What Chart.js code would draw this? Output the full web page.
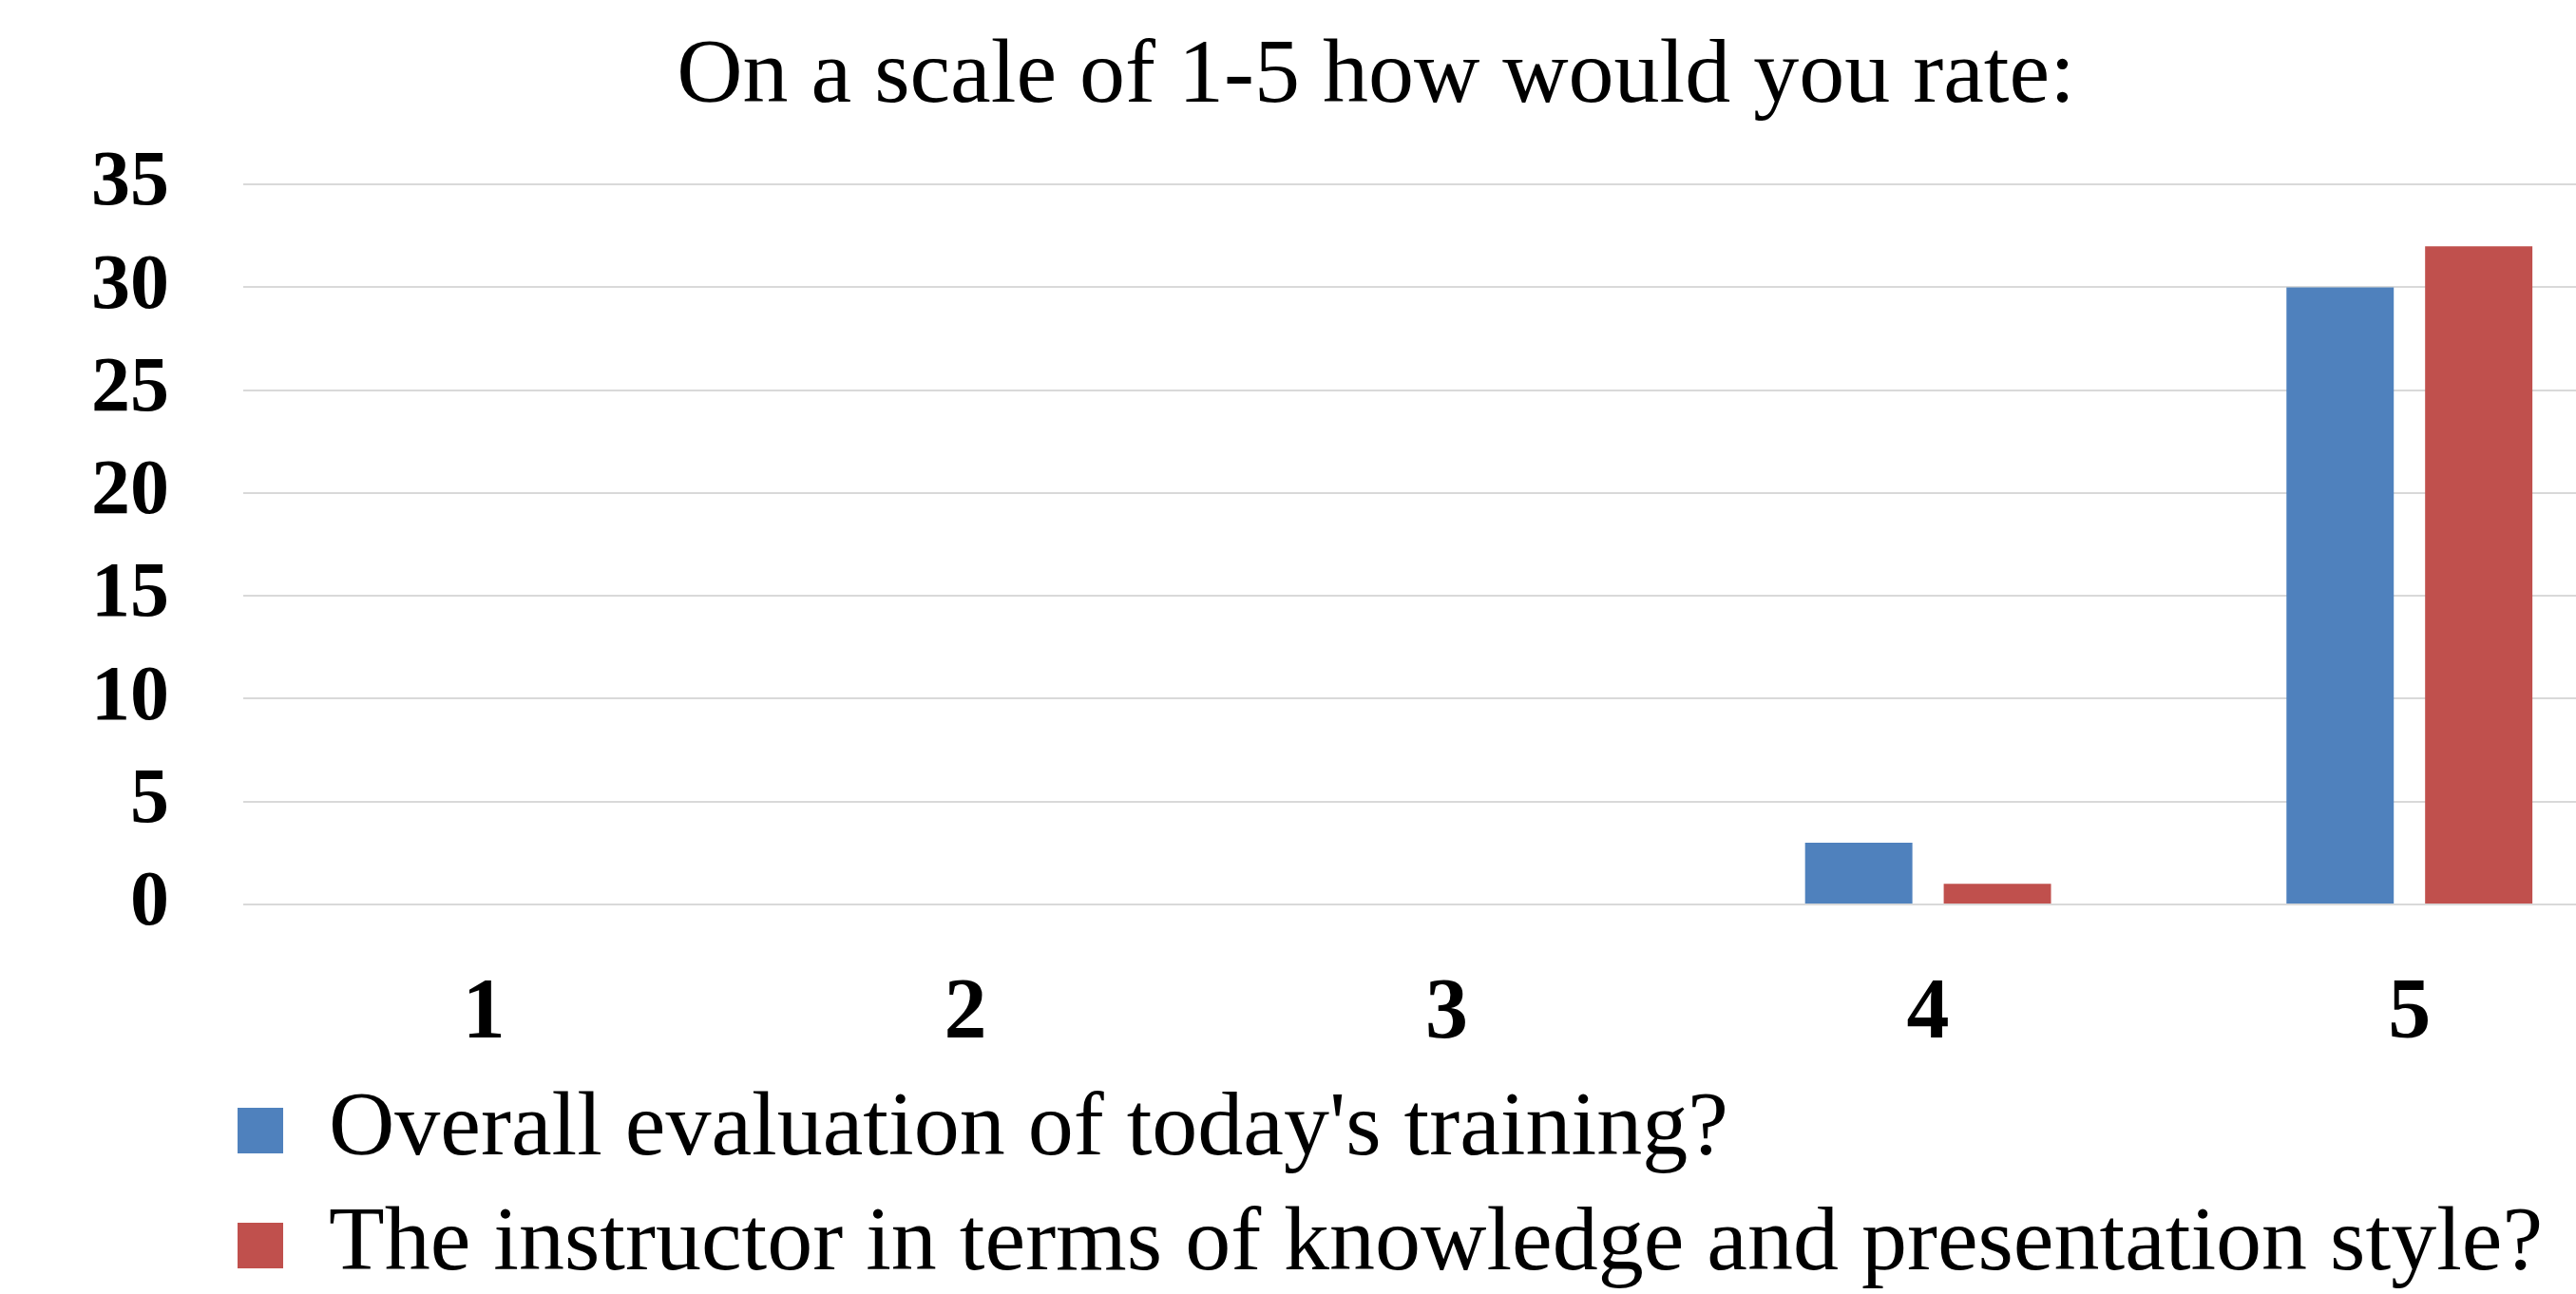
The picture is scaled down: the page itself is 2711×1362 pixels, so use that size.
<!DOCTYPE html>
<html>
<head>
<meta charset="utf-8">
<title>On a scale of 1-5 how would you rate</title>
<script src="https://cdn.jsdelivr.net/npm/chart.js@4.4.1/dist/chart.umd.min.js"></script>
<style>
    html, body { margin: 0; padding: 0; background: #fff; overflow: hidden; }
    #wrap { width: 2896px; height: 1369px; }
</style>
</head>
<body>
<div id="wrap"><canvas id="ratingChart" width="2896" height="1369"></canvas></div>
<script>
const categories = ["1", "2", "3", "4", "5"];
const seriesNames = ["Overall evaluation of today's training?", "The instructor in terms of knowledge and presentation style?"];
const overallValues = [0, 0, 0, 3, 30];
const instructorValues = [0, 0, 0, 1, 32];
const seriesColors = ["#4F81BD", "#C0504D"];
const yMax = 35;
const yStep = 5;

const FONT = "'Liberation Serif', 'Times New Roman', serif";

// title centred on the whole canvas, legend under the plot near its left edge
const boxShift = {
    id: "boxShift",
    afterLayout(chart) {
        chart.titleBlock.left = 0;
        chart.titleBlock.right = chart.width;
        const pad = chart.options.plugins.legend.labels.padding;
        chart.legend.left = chart.chartArea.left - 6 - pad;
    }
};

document.addEventListener("DOMContentLoaded", function () {
    const ctx = document.getElementById("ratingChart").getContext("2d");

    new Chart(ctx, {
        type: "bar",
        data: {
            labels: categories,
            datasets: [{
                label: seriesNames[0],
                data: overallValues,
                backgroundColor: seriesColors[0],
                borderWidth: 0
            }, {
                label: seriesNames[1],
                data: instructorValues,
                backgroundColor: seriesColors[1],
                borderWidth: 0
            }]
        },
        options: {
            responsive: false,
            animation: false,
            categoryPercentage: 0.576,
            barPercentage: 0.774,
            layout: {
                padding: { left: 18, right: 107, top: 0, bottom: 0 }
            },
            scales: {
                x: {
                    grid: { display: false, drawTicks: false },
                    border: { display: false },
                    ticks: {
                        color: "#000",
                        padding: 63,
                        font: { family: FONT, size: 90, weight: "bold" }
                    },
                    afterFit(scale) {
                        scale.height = 165;
                    }
                },
                y: {
                    min: 0,
                    max: yMax,
                    ticks: {
                        stepSize: yStep,
                        color: "#000",
                        padding: 78,
                        font: { family: FONT, size: 82, weight: "bold" }
                    },
                    grid: { color: "#d9d9d9", lineWidth: 2, drawTicks: false },
                    border: { display: false },
                    afterFit(scale) {
                        scale.width = 238;
                    }
                }
            },
            plugins: {
                title: {
                    display: true,
                    text: "On a scale of 1-5 how would you rate:",
                    color: "#000",
                    padding: { top: 24, bottom: 55 },
                    font: { family: FONT, size: 96, weight: "normal" }
                },
                legend: {
                    position: "bottom",
                    align: "start",
                    labels: {
                        color: "#000",
                        boxWidth: 48,
                        boxHeight: 48,
                        padding: 25,
                        font: { family: FONT, size: 96 }
                    }
                },
                tooltip: { enabled: false }
            }
        },
        plugins: [boxShift]
    });
});
</script>
</body>
</html>
